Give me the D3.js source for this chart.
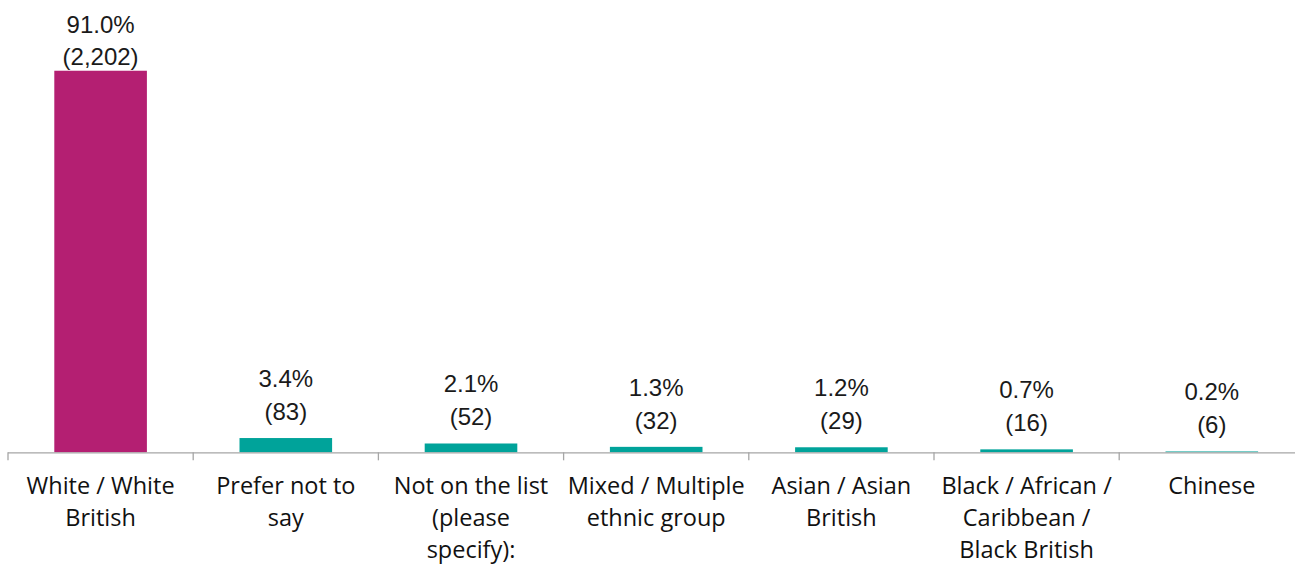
<!DOCTYPE html>
<html>
<head>
<meta charset="utf-8">
<script src="https://cdn.jsdelivr.net/npm/d3@7"></script>
<style>
  html, body { margin: 0; padding: 0; background: #fff; }
  svg { display: block; }
</style>
</head>
<body>
<svg id="chart" width="1295" height="564"></svg>
<script>
const categories = ["White / White British", "Prefer not to say", "Not on the list (please specify):", "Mixed / Multiple ethnic group", "Asian / Asian British", "Black / African / Caribbean / Black British", "Chinese"];
const categoryLines = [
  ["White / White", "British"],
  ["Prefer not to", "say"],
  ["Not on the list", "(please", "specify):"],
  ["Mixed / Multiple", "ethnic group"],
  ["Asian / Asian", "British"],
  ["Black / African /", "Caribbean /", "Black British"],
  ["Chinese"]
];
const percents = [91.0, 3.4, 2.1, 1.3, 1.2, 0.7, 0.2];
const counts = [2202, 83, 52, 32, 29, 16, 6];
const barColors = ["#B41F72", "#00A39A", "#00A39A", "#00A39A", "#00A39A", "#00A39A", "#00A39A"];

const svg = d3.select("#chart");
const axisY = 452.3;
const x = d3.scaleBand().domain(categories).range([8, 1304.4]).paddingInner(0.5).paddingOuter(0.25);
const y = d3.scaleLinear().domain([0, 100]).range([axisY, 33]);
const step = x.step();

// bars
svg.append("g").selectAll("rect").data(categories).join("rect")
  .attr("x", d => x(d))
  .attr("width", x.bandwidth())
  .attr("y", (d, i) => y(percents[i]))
  .attr("height", (d, i) => axisY - y(percents[i]))
  .attr("fill", (d, i) => barColors[i]);

// axis line and ticks
const g = svg.append("g");
g.append("line").attr("x1", 8).attr("x2", 1304.4).attr("y1", axisY + 0.6).attr("y2", axisY + 0.6)
  .attr("stroke", "#A6A6A6").attr("stroke-width", 1.3);
const tickXs = categories.map(c => x(c) - step * 0.25).concat([x(categories[categories.length - 1]) + step * 0.75]);
g.selectAll("line.tick").data(tickXs).join("line").attr("class", "tick")
  .attr("x1", d => d).attr("x2", d => d).attr("y1", axisY).attr("y2", axisY + 8)
  .attr("stroke", "#A6A6A6").attr("stroke-width", 1.3);

// data labels
const fmt = d3.format(",");
const lbl = svg.append("g").attr("font-family", "'Liberation Sans', Arial, sans-serif")
  .attr("font-size", 24).attr("fill", "#1a1a1a").attr("text-anchor", "middle");
categories.forEach((c, i) => {
  let bottom = y(percents[i]) - 18;
  let top = bottom - 33;
  if (top < 33.3) { top = 33.3; bottom = top + 31.7; }
  const cx = x(c) + x.bandwidth() / 2;
  lbl.append("text").attr("x", cx).attr("y", top).text(percents[i].toFixed(1) + "%");
  lbl.append("text").attr("x", cx).attr("y", bottom).text("(" + fmt(counts[i]) + ")");
});

// category labels
const cat = svg.append("g").attr("font-family", "'Open Sans', sans-serif")
  .attr("font-size", 23.5).attr("fill", "#111").attr("text-anchor", "middle");
categories.forEach((c, i) => {
  const cx = x(c) + x.bandwidth() / 2;
  const t = cat.append("text").attr("x", cx).attr("y", 494);
  categoryLines[i].forEach((line, j) => {
    t.append("tspan").attr("x", cx).attr("y", 494 + j * 31.8).text(line);
  });
});
</script>
</body>
</html>
